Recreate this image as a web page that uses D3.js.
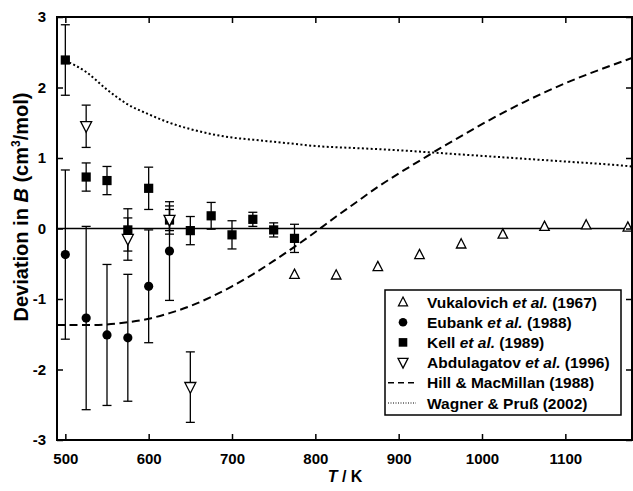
<!DOCTYPE html>
<html>
<head>
<meta charset="utf-8">
<script src="https://cdn.jsdelivr.net/npm/d3@7"></script>
<style>
  body { margin: 0; background: #fff; }
  svg text { font-family: "Liberation Sans", Arial, sans-serif; font-weight: bold; fill: #000; }
</style>
</head>
<body>
<div id="chart"></div>
<script>
// Vukalovich et al. (1967)
const vukT = [775, 825, 875, 925, 975, 1025, 1075, 1125, 1175];
const vukDev = [-0.65, -0.66, -0.54, -0.37, -0.22, -0.08, 0.03, 0.05, 0.02];

// Eubank et al. (1988)
const eubT = [500, 525, 550, 575, 600, 625];
const eubDev = [-0.37, -1.27, -1.51, -1.55, -0.82, -0.32];
const eubErr = [1.2, 1.3, 1.0, 0.9, 0.8, 0.7];

// Kell et al. (1989)
const kellT = [500, 525, 550, 575, 600, 625, 650, 675, 700, 725, 750, 775];
const kellDev = [2.39, 0.73, 0.68, -0.02, 0.57, 0.12, -0.03, 0.18, -0.09, 0.13, -0.02, -0.14];
const kellErr = [0.5, 0.2, 0.2, 0.3, 0.3, 0.2, 0.2, 0.19, 0.2, 0.1, 0.1, 0.2];

// Abdulagatov et al. (1996)
const abdT = [525, 575, 625, 650];
const abdDev = [1.45, -0.15, 0.12, -2.25];
const abdErr = [0.3, 0.3, 0.15, 0.5];

// Hill & MacMillan (1988)
const hillT = [490, 500, 525, 550, 575, 600, 625, 650, 675, 700, 725, 750, 775, 800, 825, 850, 875, 900, 925, 950, 975, 1000, 1025, 1050, 1075, 1100, 1125, 1150, 1180];
const hillDev = [-1.37, -1.37, -1.37, -1.36, -1.33, -1.28, -1.2, -1.1, -0.97, -0.82, -0.65, -0.46, -0.26, -0.05, 0.17, 0.38, 0.59, 0.78, 0.96, 1.14, 1.31, 1.48, 1.64, 1.79, 1.93, 2.06, 2.18, 2.29, 2.42];

// Wagner & Pruß (2002)
const wagT = [500, 525, 550, 575, 600, 625, 650, 675, 700, 725, 750, 775, 800, 850, 900, 950, 1000, 1050, 1100, 1150, 1180];
const wagDev = [2.38, 2.22, 1.97, 1.76, 1.62, 1.5, 1.41, 1.34, 1.29, 1.26, 1.23, 1.2, 1.17, 1.14, 1.11, 1.07, 1.03, 0.99, 0.95, 0.91, 0.88];

const xTicks = [500, 600, 700, 800, 900, 1000, 1100];
const yTicks = [-3, -2, -1, 0, 1, 2, 3];

const legendLabels = [
  ["Vukalovich ", "et al.", " (1967)"],
  ["Eubank ", "et al.", " (1988)"],
  ["Kell ", "et al.", " (1989)"],
  ["Abdulagatov ", "et al.", " (1996)"],
  ["Hill & MacMillan (1988)", "", ""],
  ["Wagner & Pruß (2002)", "", ""]
];

const width = 633, height = 491;
const pLeft = 57, pRight = 632, pTop = 17, pBottom = 440;

const svg = d3.select("#chart").append("svg")
  .attr("width", width)
  .attr("height", height);

const x = d3.scaleLinear().domain([490, 1180]).range([pLeft, pRight]);
const y = d3.scaleLinear().domain([-3, 3]).range([pBottom, pTop]);

const zip = (a, b) => a.map((t, i) => [t, b[i]]);
const plain = d => String(d);

// clip for curves
svg.append("clipPath").attr("id", "clip")
  .append("rect").attr("x", pLeft).attr("y", pTop)
  .attr("width", pRight - pLeft).attr("height", pBottom - pTop);

// zero line
svg.append("line")
  .attr("x1", pLeft).attr("x2", pRight)
  .attr("y1", y(0)).attr("y2", y(0))
  .attr("stroke", "#000").attr("stroke-width", 1.6);

const line = d3.line().x(d => x(d[0])).y(d => y(d[1])).curve(d3.curveMonotoneX);

svg.append("path")
  .attr("d", line(zip(hillT, hillDev)))
  .attr("clip-path", "url(#clip)")
  .attr("fill", "none").attr("stroke", "#000")
  .attr("stroke-width", 2).attr("stroke-dasharray", "8,4.5");

svg.append("path")
  .attr("d", line(zip(wagT, wagDev)))
  .attr("clip-path", "url(#clip)")
  .attr("fill", "none").attr("stroke", "#000")
  .attr("stroke-width", 2).attr("stroke-dasharray", "2,2.4");

// error bars
function errorBars(ts, vals, errs) {
  const g = svg.append("g").attr("stroke", "#000").attr("stroke-width", 1.3);
  ts.forEach((t, i) => {
    const cx = x(t), lo = y(vals[i] - errs[i]), hi = y(vals[i] + errs[i]);
    g.append("line").attr("x1", cx).attr("x2", cx).attr("y1", lo).attr("y2", hi);
    g.append("line").attr("x1", cx - 4.5).attr("x2", cx + 4.5).attr("y1", lo).attr("y2", lo);
    g.append("line").attr("x1", cx - 4.5).attr("x2", cx + 4.5).attr("y1", hi).attr("y2", hi);
  });
}
errorBars(eubT, eubDev, eubErr);
errorBars(kellT, kellDev, kellErr);
errorBars(abdT, abdDev, abdErr);

// markers
function triUp(s) { return `M0,${-s * 0.55}L${s * 0.5},${s * 0.42}L${-s * 0.5},${s * 0.42}Z`; }
function triDown(s) { return `M0,${s * 0.55}L${s * 0.5},${-s * 0.42}L${-s * 0.5},${-s * 0.42}Z`; }

svg.append("g").selectAll("path")
  .data(zip(vukT, vukDev)).join("path")
  .attr("transform", d => `translate(${x(d[0])},${y(d[1])})`)
  .attr("d", triUp(9.5))
  .attr("fill", "#fff").attr("stroke", "#000").attr("stroke-width", 1.3);

svg.append("g").selectAll("circle")
  .data(zip(eubT, eubDev)).join("circle")
  .attr("cx", d => x(d[0])).attr("cy", d => y(d[1]))
  .attr("r", 4.6).attr("fill", "#000");

svg.append("g").selectAll("rect")
  .data(zip(kellT, kellDev)).join("rect")
  .attr("x", d => x(d[0]) - 4.6).attr("y", d => y(d[1]) - 4.6)
  .attr("width", 9.2).attr("height", 9.2).attr("fill", "#000");

svg.append("g").selectAll("path")
  .data(zip(abdT, abdDev)).join("path")
  .attr("transform", d => `translate(${x(d[0])},${y(d[1])})`)
  .attr("d", triDown(11))
  .attr("fill", "#fff").attr("stroke", "#000").attr("stroke-width", 1.3);

// frame
svg.append("rect")
  .attr("x", pLeft).attr("y", pTop)
  .attr("width", pRight - pLeft).attr("height", pBottom - pTop)
  .attr("fill", "none").attr("stroke", "#000").attr("stroke-width", 2);

// axes with inward ticks
const fs = "15px";
svg.append("g").attr("transform", `translate(0,${pBottom})`)
  .call(d3.axisBottom(x).tickValues(xTicks).tickFormat(plain)
    .tickSizeInner(-6).tickSizeOuter(0).tickPadding(13))
  .call(g => g.select(".domain").remove())
  .call(g => g.selectAll("line").attr("stroke-width", 1.5))
  .call(g => g.selectAll("text").attr("font-size", fs));

svg.append("g").attr("transform", `translate(0,${pTop})`)
  .call(d3.axisTop(x).tickValues(xTicks).tickSizeInner(-6).tickSizeOuter(0).tickFormat(""))
  .call(g => g.select(".domain").remove())
  .call(g => g.selectAll("line").attr("stroke-width", 1.5));

svg.append("g").attr("transform", `translate(${pLeft},0)`)
  .call(d3.axisLeft(y).tickValues(yTicks).tickFormat(plain)
    .tickSizeInner(-6).tickSizeOuter(0).tickPadding(11))
  .call(g => g.select(".domain").remove())
  .call(g => g.selectAll("line").attr("stroke-width", 1.5))
  .call(g => g.selectAll("text").attr("font-size", fs));

svg.append("g").attr("transform", `translate(${pRight},0)`)
  .call(d3.axisRight(y).tickValues(yTicks).tickSizeInner(-6).tickSizeOuter(0).tickFormat(""))
  .call(g => g.select(".domain").remove())
  .call(g => g.selectAll("line").attr("stroke-width", 1.5));

// axis titles
const xt = svg.append("text")
  .attr("x", 345).attr("y", 482)
  .attr("text-anchor", "middle").attr("font-size", "16px");
xt.append("tspan").attr("font-style", "italic").text("T");
xt.append("tspan").text(" / K");

const yt = svg.append("text")
  .attr("transform", "translate(28,207) rotate(-90)")
  .attr("text-anchor", "middle").attr("font-size", "20px");
yt.append("tspan").text("Deviation in ");
yt.append("tspan").attr("font-style", "italic").text("B");
yt.append("tspan").text(" (cm");
yt.append("tspan").attr("font-size", "12px").attr("dy", -8).text("3");
yt.append("tspan").attr("dy", 8).text("/mol)");

// legend
const lg = svg.append("g").attr("transform", "translate(385,290)");
lg.append("rect").attr("width", 236).attr("height", 125)
  .attr("fill", "#fff").attr("stroke", "#000").attr("stroke-width", 1.5);

legendLabels.forEach((lab, i) => {
  const cy = 12 + i * 20.2;
  const sx = 18;
  if (i === 0) {
    lg.append("path").attr("transform", `translate(${sx},${cy})`).attr("d", triUp(9))
      .attr("fill", "#fff").attr("stroke", "#000").attr("stroke-width", 1.3);
  } else if (i === 1) {
    lg.append("circle").attr("cx", sx).attr("cy", cy).attr("r", 4.3).attr("fill", "#000");
  } else if (i === 2) {
    lg.append("rect").attr("x", sx - 4.3).attr("y", cy - 4.3).attr("width", 8.6).attr("height", 8.6).attr("fill", "#000");
  } else if (i === 3) {
    lg.append("path").attr("transform", `translate(${sx},${cy})`).attr("d", triDown(10))
      .attr("fill", "#fff").attr("stroke", "#000").attr("stroke-width", 1.3);
  } else if (i === 4) {
    lg.append("line").attr("x1", 3).attr("x2", 31).attr("y1", cy).attr("y2", cy)
      .attr("stroke", "#000").attr("stroke-width", 1.6).attr("stroke-dasharray", "6,4");
  } else {
    lg.append("line").attr("x1", 3).attr("x2", 31).attr("y1", cy).attr("y2", cy)
      .attr("stroke", "#000").attr("stroke-width", 1).attr("stroke-dasharray", "1,1.5");
  }
  const t = lg.append("text").attr("x", 42).attr("y", cy + 5.5).attr("font-size", "15.5px");
  t.append("tspan").text(lab[0]);
  if (lab[1]) t.append("tspan").attr("font-style", "italic").text(lab[1]);
  if (lab[2]) t.append("tspan").text(lab[2]);
});
</script>
</body>
</html>
